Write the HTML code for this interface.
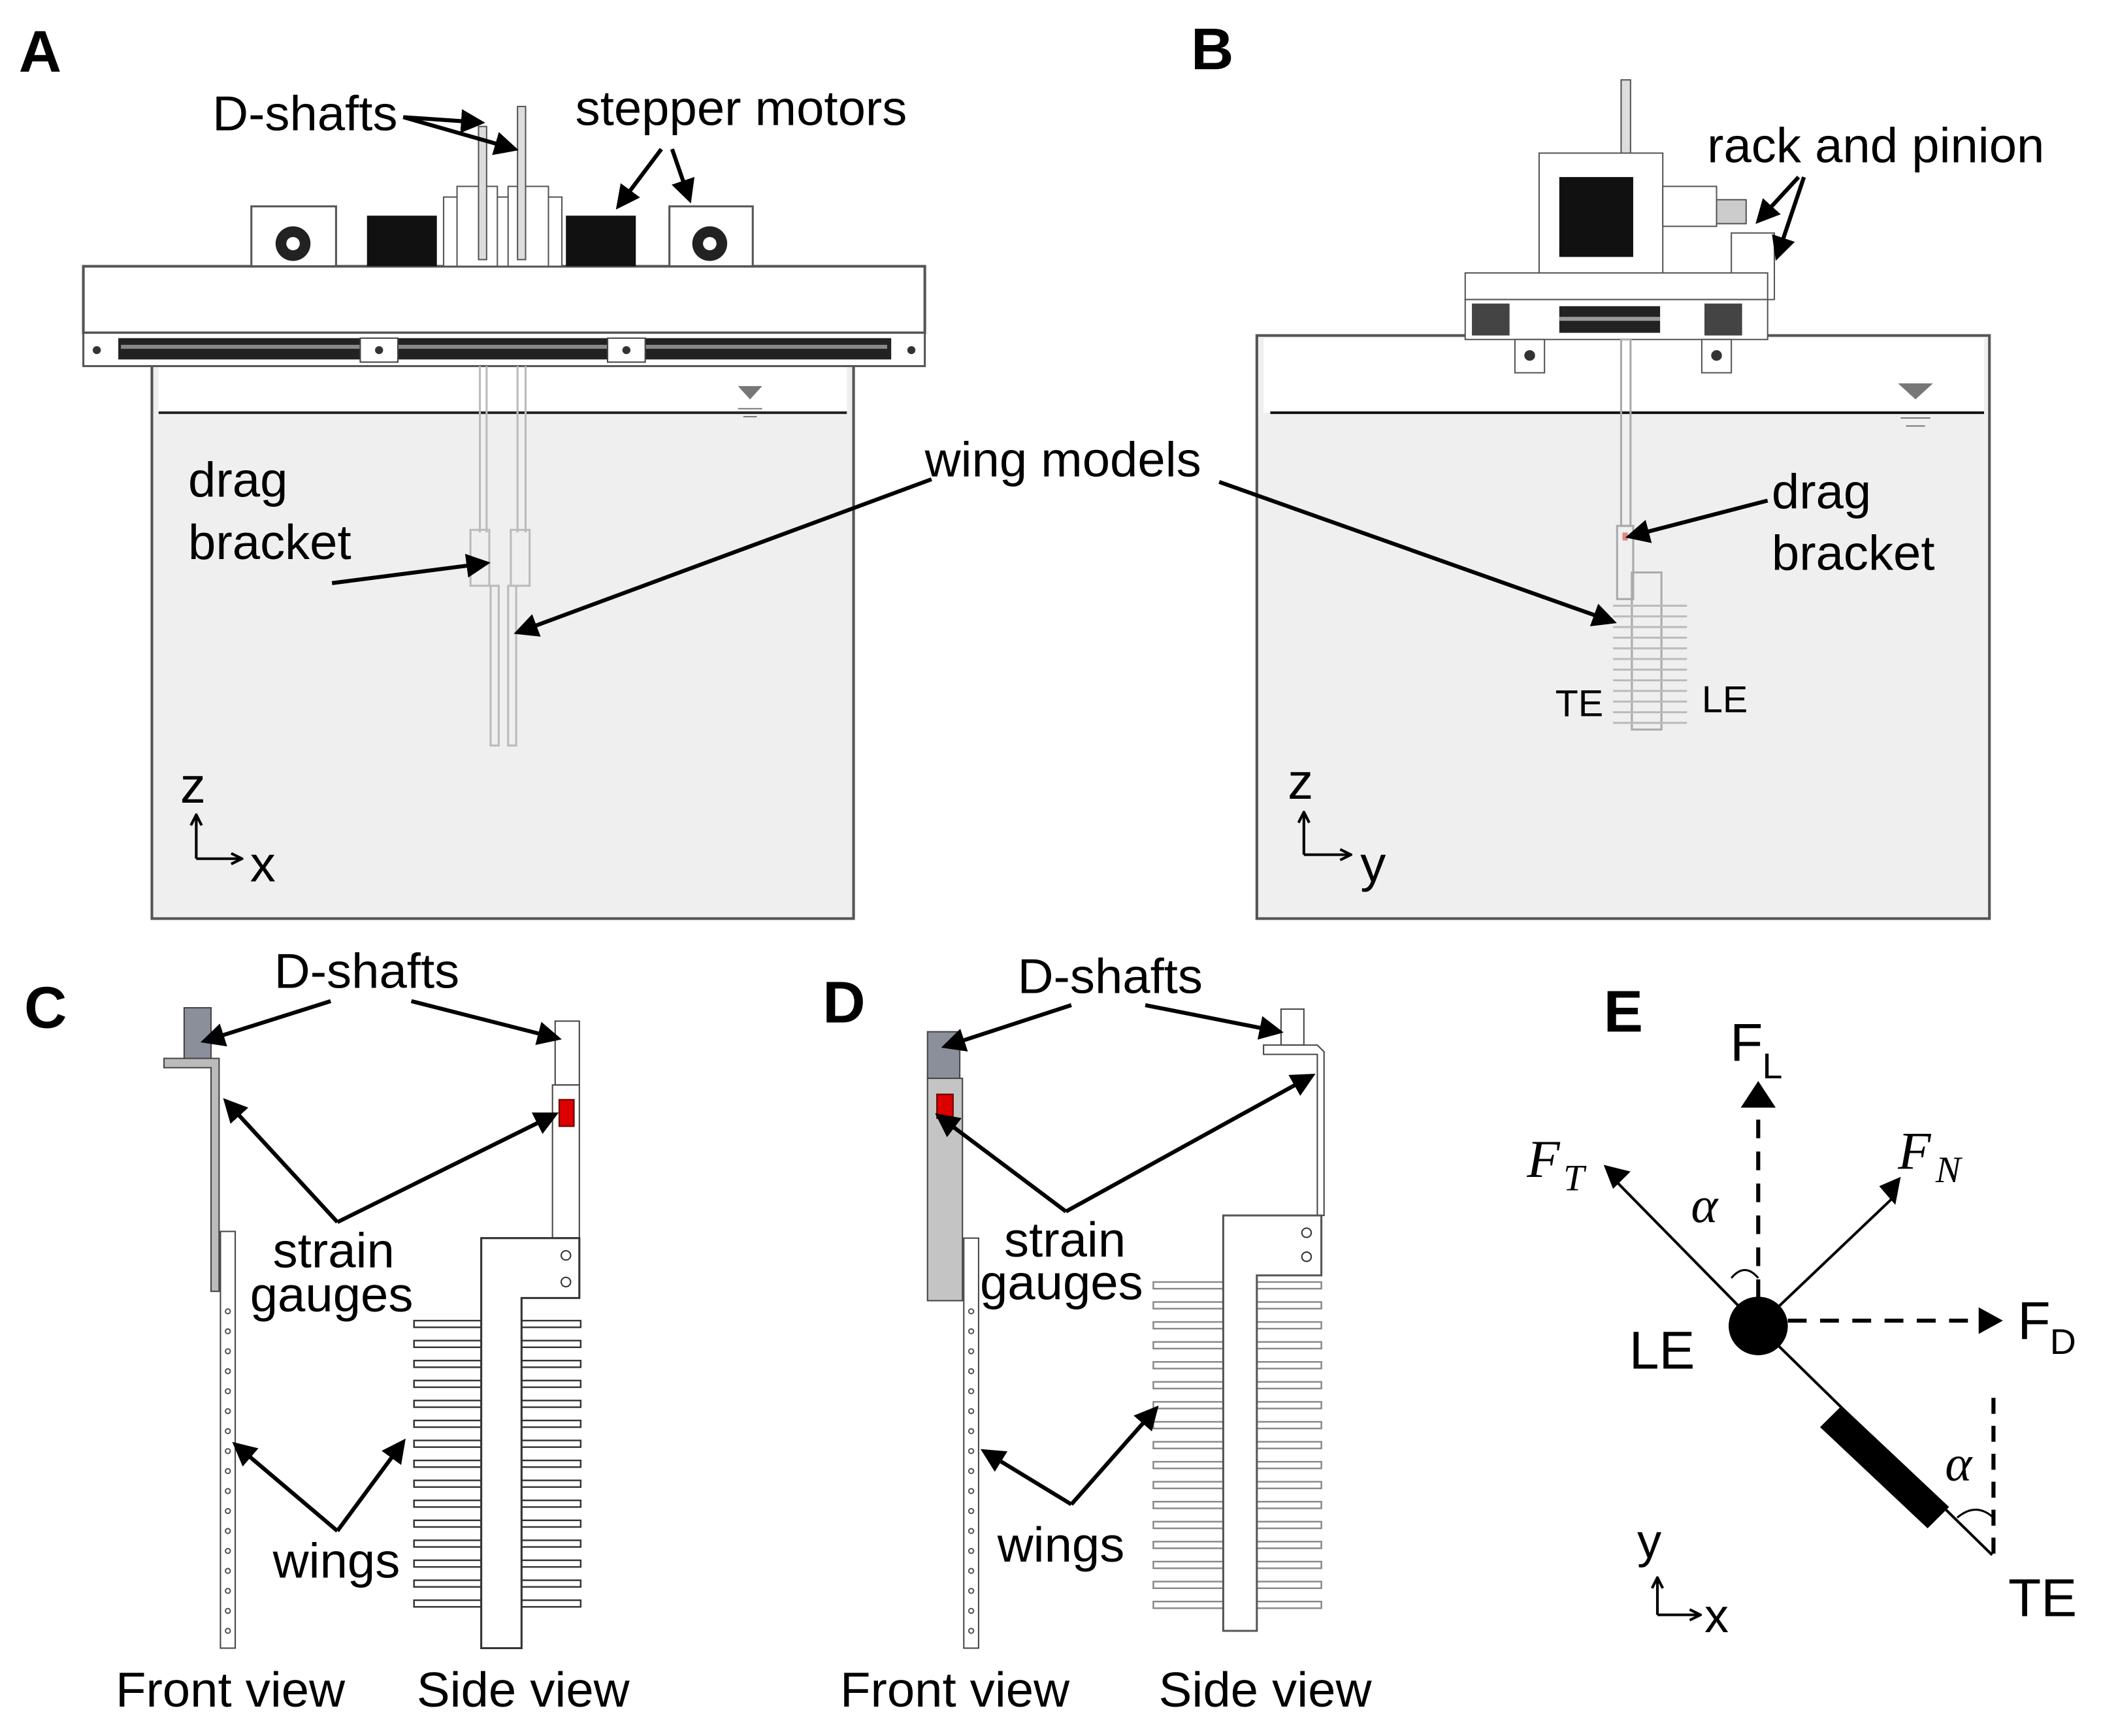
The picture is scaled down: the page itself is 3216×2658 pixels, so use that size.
<!DOCTYPE html>
<html><head><meta charset="utf-8"><style>html,body{margin:0;padding:0;background:#fff}svg{display:block}</style></head>
<body>
<svg width="3216" height="2658" viewBox="0 0 1563 1304" preserveAspectRatio="none" xmlns="http://www.w3.org/2000/svg" font-family="Liberation Sans, Arial, sans-serif">
<defs>
<marker id="ar2" markerWidth="6" markerHeight="6" refX="5" refY="3" orient="auto" markerUnits="strokeWidth"><path d="M0,0 L6,3 L0,6 z" fill="#000"/></marker>
<marker id="op" markerWidth="10" markerHeight="10" refX="9" refY="5" orient="auto" markerUnits="userSpaceOnUse"><path d="M1,1 L9,5 L1,9" fill="none" stroke="#000" stroke-width="2"/></marker>
</defs>
<rect width="1563" height="1304" fill="#fff"/>
<g font-weight="bold" font-size="44">
<text x="14" y="54">A</text><text x="886" y="52">B</text><text x="18" y="772">C</text><text x="612" y="768">D</text><text x="1193" y="775">E</text></g>

<!-- Panel A -->
<rect x="113" y="262" width="522" height="428" fill="#efefef" stroke="#555" stroke-width="2"/>
<rect x="118" y="262" width="512" height="48" fill="#fff"/>
<line x1="118" y1="310" x2="630" y2="310" stroke="#222" stroke-width="2"/>
<path d="M549,290 L567,290 L558,300 z" fill="#777"/><line x1="549" y1="307" x2="567" y2="307" stroke="#777"/><line x1="553" y1="313" x2="563" y2="313" stroke="#777"/>
<rect x="62" y="200" width="626" height="50" fill="#fff" stroke="#555" stroke-width="2"/>
<rect x="62" y="250" width="626" height="25" fill="#fff" stroke="#555" stroke-width="1.5"/>
<rect x="88" y="254" width="575" height="16" fill="#222"/>
<rect x="90" y="259" width="570" height="3" fill="#888"/>
<rect x="268" y="254" width="28" height="18" fill="#fff" stroke="#444"/><rect x="452" y="254" width="28" height="18" fill="#fff" stroke="#444"/>
<circle cx="282" cy="263" r="3" fill="#333"/><circle cx="466" cy="263" r="3" fill="#333"/><circle cx="72" cy="263" r="3" fill="#333"/><circle cx="678" cy="263" r="3" fill="#333"/>
<rect x="187" y="155" width="63" height="45" fill="#fff" stroke="#555" stroke-width="1.5"/><circle cx="218" cy="183" r="13" fill="#222"/><circle cx="218" cy="183" r="5" fill="#fff"/>
<rect x="498" y="155" width="62" height="45" fill="#fff" stroke="#555" stroke-width="1.5"/><circle cx="528" cy="183" r="13" fill="#222"/><circle cx="528" cy="183" r="5" fill="#fff"/>
<rect x="273" y="162" width="52" height="38" fill="#111"/><rect x="421" y="162" width="52" height="38" fill="#111"/>
<rect x="330" y="148" width="88" height="52" fill="#fff" stroke="#555"/>
<rect x="340" y="140" width="30" height="60" fill="#fff" stroke="#555"/><rect x="378" y="140" width="30" height="60" fill="#fff" stroke="#555"/>
<rect x="356" y="95" width="6" height="100" fill="#ddd" stroke="#555"/><rect x="385" y="80" width="6" height="115" fill="#ddd" stroke="#555"/>
<g stroke="#bbb" fill="none" stroke-width="1.5">
<line x1="357" y1="275" x2="357" y2="400"/><line x1="362" y1="275" x2="362" y2="400"/>
<line x1="385" y1="275" x2="385" y2="400"/><line x1="391" y1="275" x2="391" y2="400"/>
<rect x="350" y="398" width="14" height="42"/><rect x="380" y="398" width="14" height="42"/>
<rect x="365" y="440" width="6" height="120"/><rect x="378" y="440" width="6" height="120"/></g>

<!-- Panel B -->
<rect x="935" y="252" width="545" height="438" fill="#efefef" stroke="#555" stroke-width="2"/>
<rect x="940" y="254" width="536" height="56" fill="#fff"/>
<line x1="945" y1="310" x2="1476" y2="310" stroke="#111" stroke-width="2"/>
<path d="M1412,288 L1438,288 L1425,300 z" fill="#777"/><line x1="1414" y1="314" x2="1436" y2="314" stroke="#777"/><line x1="1418" y1="320" x2="1432" y2="320" stroke="#777"/>
<rect x="1206" y="60" width="7" height="70" fill="#ddd" stroke="#555"/>
<rect x="1145" y="115" width="92" height="100" fill="#fff" stroke="#555"/>
<rect x="1160" y="133" width="55" height="60" fill="#111"/>
<rect x="1237" y="140" width="40" height="30" fill="#fff" stroke="#555"/>
<rect x="1277" y="150" width="22" height="18" fill="#ccc" stroke="#555"/>
<rect x="1288" y="175" width="32" height="50" fill="#fff" stroke="#555"/>
<rect x="1090" y="205" width="225" height="20" fill="#fff" stroke="#555"/>
<rect x="1090" y="225" width="225" height="30" fill="#fff" stroke="#555"/>
<rect x="1160" y="230" width="75" height="20" fill="#222"/><rect x="1160" y="238" width="75" height="3" fill="#999"/>
<rect x="1095" y="228" width="28" height="24" fill="#444"/><rect x="1268" y="228" width="28" height="24" fill="#444"/>
<rect x="1127" y="255" width="22" height="25" fill="#fff" stroke="#555"/><rect x="1266" y="255" width="22" height="25" fill="#fff" stroke="#555"/>
<circle cx="1138" cy="267" r="4" fill="#333"/><circle cx="1277" cy="267" r="4" fill="#333"/>
<g stroke="#aaa" fill="none" stroke-width="1.5">
<rect x="1206" y="255" width="7" height="140"/><rect x="1203" y="395" width="12" height="55"/>
<rect x="1214" y="430" width="22" height="118"/>
</g>
<g stroke="#bbb" stroke-width="1.5">
<line x1="1200" y1="455" x2="1255" y2="455"/><line x1="1200" y1="463" x2="1255" y2="463"/><line x1="1200" y1="471" x2="1255" y2="471"/><line x1="1200" y1="479" x2="1255" y2="479"/><line x1="1200" y1="487" x2="1255" y2="487"/><line x1="1200" y1="495" x2="1255" y2="495"/><line x1="1200" y1="503" x2="1255" y2="503"/><line x1="1200" y1="511" x2="1255" y2="511"/><line x1="1200" y1="519" x2="1255" y2="519"/><line x1="1200" y1="527" x2="1255" y2="527"/><line x1="1200" y1="535" x2="1255" y2="535"/><line x1="1200" y1="543" x2="1255" y2="543"/></g>
<rect x="1207" y="400" width="4" height="6" fill="#d88"/>
<g font-size="28"><text x="1157" y="538">TE</text><text x="1266" y="535">LE</text></g>

<!-- axes A,B -->
<g stroke="#000" stroke-width="2" fill="none"><line x1="146" y1="645" x2="146" y2="612" marker-end="url(#op)"/><line x1="146" y1="645" x2="180" y2="645" marker-end="url(#op)"/>
<line x1="970" y1="642" x2="970" y2="610" marker-end="url(#op)"/><line x1="970" y1="642" x2="1005" y2="642" marker-end="url(#op)"/></g>
<g font-size="38"><text x="134" y="603">z</text><text x="186" y="662">x</text><text x="958" y="600">z</text><text x="1012" y="662">y</text></g>

<!-- Panel C -->
<rect x="137" y="757" width="20" height="38" fill="#8a8f9a" stroke="#444"/>
<path d="M122,795 L163,795 L163,970 L157,970 L157,802 L122,802 z" fill="#bbb" stroke="#444"/>
<rect x="164" y="925" width="11" height="313" fill="#fff" stroke="#444"/>
<g fill="#fff" stroke="#555"><circle cx="169.5" cy="985" r="1.8"/><circle cx="169.5" cy="1000" r="1.8"/><circle cx="169.5" cy="1015" r="1.8"/><circle cx="169.5" cy="1030" r="1.8"/><circle cx="169.5" cy="1045" r="1.8"/><circle cx="169.5" cy="1060" r="1.8"/><circle cx="169.5" cy="1075" r="1.8"/><circle cx="169.5" cy="1090" r="1.8"/><circle cx="169.5" cy="1105" r="1.8"/><circle cx="169.5" cy="1120" r="1.8"/><circle cx="169.5" cy="1135" r="1.8"/><circle cx="169.5" cy="1150" r="1.8"/><circle cx="169.5" cy="1165" r="1.8"/><circle cx="169.5" cy="1180" r="1.8"/><circle cx="169.5" cy="1195" r="1.8"/><circle cx="169.5" cy="1210" r="1.8"/><circle cx="169.5" cy="1225" r="1.8"/></g>
<rect x="413" y="767" width="18" height="48" fill="#fff" stroke="#444"/>
<rect x="411" y="815" width="20" height="115" fill="#fff" stroke="#444"/>
<rect x="416" y="826" width="11" height="20" fill="#d00" stroke="#600"/>
<g fill="#fff" stroke="#333" stroke-width="1.2">
<rect x="308" y="992" width="124" height="5"/><rect x="308" y="1007" width="124" height="5"/><rect x="308" y="1022" width="124" height="5"/><rect x="308" y="1037" width="124" height="5"/><rect x="308" y="1052" width="124" height="5"/><rect x="308" y="1067" width="124" height="5"/><rect x="308" y="1082" width="124" height="5"/><rect x="308" y="1097" width="124" height="5"/><rect x="308" y="1112" width="124" height="5"/><rect x="308" y="1127" width="124" height="5"/><rect x="308" y="1142" width="124" height="5"/><rect x="308" y="1157" width="124" height="5"/><rect x="308" y="1172" width="124" height="5"/><rect x="308" y="1187" width="124" height="5"/><rect x="308" y="1202" width="124" height="5"/>
<path d="M358,930 L431,930 L431,975 L388,975 L388,1238 L358,1238 z" stroke-width="1.5"/></g>
<circle cx="421" cy="943" r="3.5" fill="#fff" stroke="#333"/><circle cx="421" cy="963" r="3.5" fill="#fff" stroke="#333"/>

<!-- Panel D -->
<rect x="690" y="775" width="24" height="35" fill="#8a8f9a" stroke="#444"/>
<rect x="690" y="810" width="26" height="167" fill="#c4c4c4" stroke="#444"/>
<rect x="697" y="822" width="12" height="18" fill="#d00" stroke="#600"/>
<rect x="717" y="930" width="11" height="308" fill="#fff" stroke="#444"/>
<g fill="#fff" stroke="#555"><circle cx="722.5" cy="985" r="1.8"/><circle cx="722.5" cy="1000" r="1.8"/><circle cx="722.5" cy="1015" r="1.8"/><circle cx="722.5" cy="1030" r="1.8"/><circle cx="722.5" cy="1045" r="1.8"/><circle cx="722.5" cy="1060" r="1.8"/><circle cx="722.5" cy="1075" r="1.8"/><circle cx="722.5" cy="1090" r="1.8"/><circle cx="722.5" cy="1105" r="1.8"/><circle cx="722.5" cy="1120" r="1.8"/><circle cx="722.5" cy="1135" r="1.8"/><circle cx="722.5" cy="1150" r="1.8"/><circle cx="722.5" cy="1165" r="1.8"/><circle cx="722.5" cy="1180" r="1.8"/><circle cx="722.5" cy="1195" r="1.8"/><circle cx="722.5" cy="1210" r="1.8"/><circle cx="722.5" cy="1225" r="1.8"/></g>
<rect x="953" y="758" width="17" height="27" fill="#fff" stroke="#444"/>
<path d="M940,785 L980,785 L985,790 L985,913 L980,913 L980,792 L940,792 z" fill="#fff" stroke="#444"/>
<g fill="#fff" stroke="#888" stroke-width="1.2">
<rect x="858" y="963" width="125" height="5"/><rect x="858" y="978" width="125" height="5"/><rect x="858" y="993" width="125" height="5"/><rect x="858" y="1008" width="125" height="5"/><rect x="858" y="1023" width="125" height="5"/><rect x="858" y="1038" width="125" height="5"/><rect x="858" y="1053" width="125" height="5"/><rect x="858" y="1068" width="125" height="5"/><rect x="858" y="1083" width="125" height="5"/><rect x="858" y="1098" width="125" height="5"/><rect x="858" y="1113" width="125" height="5"/><rect x="858" y="1128" width="125" height="5"/><rect x="858" y="1143" width="125" height="5"/><rect x="858" y="1158" width="125" height="5"/><rect x="858" y="1173" width="125" height="5"/><rect x="858" y="1188" width="125" height="5"/><rect x="858" y="1203" width="125" height="5"/>
<path d="M910,913 L983,913 L983,958 L935,958 L935,1225 L910,1225 z" stroke="#555" stroke-width="1.5"/></g>
<circle cx="972" cy="926" r="3.5" fill="#fff" stroke="#333"/><circle cx="972" cy="944" r="3.5" fill="#fff" stroke="#333"/>

<!-- labels -->
<g font-size="37" fill="#000">
<text x="158" y="98">D-shafts</text><text x="428" y="94">stepper motors</text>
<text x="140" y="373">drag</text><text x="140" y="420">bracket</text><text x="688" y="358">wing models</text>
<text x="1270" y="122">rack and pinion</text><text x="1318" y="382">drag</text><text x="1318" y="428">bracket</text>
<text x="204" y="742">D-shafts</text><text x="203" y="952">strain</text><text x="186" y="985">gauges</text><text x="203" y="1185">wings</text>
<text x="86" y="1282">Front view</text><text x="310" y="1282">Side view</text>
<text x="757" y="746">D-shafts</text><text x="747" y="944">strain</text><text x="729" y="976">gauges</text><text x="742" y="1173">wings</text>
<text x="625" y="1282">Front view</text><text x="862" y="1282">Side view</text></g>

<g stroke="#000" stroke-width="3" fill="none" marker-end="url(#ar2)">
<line x1="300" y1="88" x2="358" y2="92"/><line x1="300" y1="88" x2="383" y2="112"/>
<line x1="492" y1="112" x2="460" y2="155"/><line x1="500" y1="112" x2="513" y2="150"/>
<line x1="247" y1="438" x2="362" y2="423"/><line x1="693" y1="360" x2="385" y2="475"/>
<line x1="907" y1="362" x2="1200" y2="467"/><line x1="1315" y1="376" x2="1212" y2="403"/>
<line x1="1338" y1="133" x2="1308" y2="166"/><line x1="1342" y1="133" x2="1322" y2="193"/>
<line x1="246" y1="752" x2="152" y2="782"/><line x1="306" y1="752" x2="415" y2="780"/>
<line x1="251" y1="918" x2="168" y2="827"/><line x1="251" y1="918" x2="413" y2="837"/>
<line x1="251" y1="1150" x2="175" y2="1085"/><line x1="251" y1="1150" x2="300" y2="1083"/>
<line x1="797" y1="755" x2="703" y2="786"/><line x1="852" y1="755" x2="952" y2="775"/>
<line x1="793" y1="910" x2="698" y2="838"/><line x1="793" y1="910" x2="976" y2="808"/>
<line x1="797" y1="1130" x2="732" y2="1090"/><line x1="797" y1="1130" x2="860" y2="1058"/>
</g>

<!-- Panel E -->
<g stroke="#000" stroke-width="3" fill="none">
<line x1="1308" y1="975" x2="1308" y2="830" stroke-dasharray="14,10"/>
<line x1="1330" y1="992" x2="1478" y2="992" stroke-dasharray="14,10"/>
<line x1="1483" y1="1050" x2="1483" y2="1172" stroke-dasharray="12,9"/>
<line x1="1308" y1="996" x2="1200" y2="885" stroke-width="2"/>
<line x1="1308" y1="996" x2="1410" y2="898" stroke-width="2"/>
<line x1="1308" y1="996" x2="1482" y2="1168" stroke-width="2"/>
<path d="M1288,960 Q1298,948 1308,960" stroke-width="1.5"/>
<path d="M1456,1140 Q1470,1128 1483,1140" stroke-width="1.5"/>
</g>
<path d="M1308,812 L1295,832 L1321,832 z" fill="#000"/>
<path d="M1193,875 L1213,880 L1200,893 z" fill="#000"/>
<path d="M1414,884 L1410,905 L1398,891 z" fill="#000"/>
<path d="M1490,992 L1472,982 L1472,1002 z" fill="#000"/>
<circle cx="1308" cy="996" r="22" fill="#000"/>
<path d="M1354,1072 L1370,1056 L1450,1132 L1434,1148 z" fill="#000"/>
<g font-size="40"><text x="1287" y="797">F</text><text x="1311" y="810" font-size="27">L</text>
<text x="1501" y="1006">F</text><text x="1525" y="1017" font-size="27">D</text>
<text x="1212" y="1028">LE</text><text x="1494" y="1214">TE</text></g>
<g font-family="Liberation Serif, serif" font-style="italic"><text x="1136" y="884" font-size="40">F</text><text x="1163" y="894" font-size="28">T</text>
<text x="1412" y="878" font-size="40">F</text><text x="1440" y="888" font-size="28">N</text>
<text x="1258" y="918" font-size="38">α</text><text x="1447" y="1112" font-size="38">α</text></g>
<g stroke="#000" stroke-width="2" fill="none"><line x1="1233" y1="1213" x2="1233" y2="1185" marker-end="url(#op)"/><line x1="1233" y1="1213" x2="1265" y2="1213" marker-end="url(#op)"/></g>
<g font-size="36"><text x="1218" y="1170">y</text><text x="1268" y="1226">x</text></g>
</svg>
</body></html>
